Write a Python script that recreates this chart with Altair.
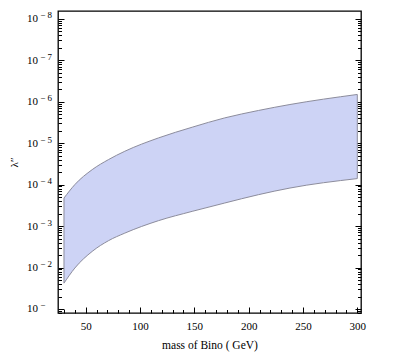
import altair as alt
import pandas as pd

# Data (band between two curves)
mass = [30, 40, 56, 71, 86, 117, 148, 178, 209, 238, 300]
lam_low = [2.11e-4, 1.0e-4, 4.35e-5, 2.49e-5, 1.57e-5, 7.48e-6, 4.13e-6, 2.46e-6,
           1.63e-6, 1.17e-6, 6.7e-7]
lam_high = [2.38e-2, 1.03e-2, 4.08e-3, 2.25e-3, 1.48e-3, 7.41e-4, 4.42e-4, 2.78e-4,
            1.75e-4, 1.21e-4, 7.16e-5]

y_major = [1e-8, 1e-7, 1e-6, 1e-5, 1e-4, 1e-3, 1e-2, 1e-1]
y_minor_factors = [10 / k for k in range(2, 10)]
y_minor = [f * d for d in [1e-9] + y_major for f in y_minor_factors]
y_minor = [v for v in y_minor if 6.5e-9 <= v <= 0.125]
x_major = [50, 100, 150, 200, 250, 300]
x_minor = [v for v in range(30, 301, 10) if v % 50 != 0]

df = pd.DataFrame({"mass": mass, "lo": lam_low, "hi": lam_high})

FONT = "Liberation Serif"
xscale = alt.Scale(domain=[24.5, 303.4], nice=False, zero=False)
yscale = alt.Scale(type="log", domain=[6.5e-9, 0.125], nice=False, reverse=True)

exp_expr = ("datum.value > 0.05 ? '−' : '− ' + "
            "format(round(-log(datum.value)/LN10), 'd')")


def layer(mark, xaxis, yaxis):
    return mark.encode(
        x=alt.X("mass:Q", scale=xscale, axis=xaxis),
        y=alt.Y("lo:Q", scale=yscale, axis=yaxis),
        y2="hi:Q",
    )


band = layer(
    alt.Chart(df).mark_area(fill="#cdd3f5", stroke="#8c8c9c", strokeWidth=1,
                            interpolate="monotone"),
    alt.Axis(orient="bottom", values=x_major, ticks=False, domain=False, grid=False,
             labelFont=FONT, labelFontSize=11, labelColor="black", labelPadding=7,
             title="mass of  Bino ( GeV)", titleFont=FONT, titleFontSize=11.5,
             titleFontWeight="normal", titleColor="black", titlePadding=8),
    alt.Axis(orient="left", values=y_major, labelExpr="'10'", ticks=False, domain=False,
             grid=False, labelFont=FONT, labelFontSize=11, labelColor="black",
             labelPadding=20.5, title="λ″", titleFont=FONT, titleFontSize=11,
             titleFontWeight="normal", titleColor="black", titlePadding=7),
)

ghost = alt.Chart(df).mark_area(opacity=0)

expo = layer(
    ghost, None,
    alt.Axis(orient="left", values=y_major, labelExpr=exp_expr, ticks=False,
             domain=False, grid=False, labelFont=FONT, labelFontSize=9,
             labelColor="black", labelAlign="left", labelPadding=18.3,
             labelOffset=-4, title=None),
)


def tick_axis(orient, values, size):
    return alt.Axis(orient=orient, values=values, ticks=True, tickSize=size, offset=-size,
                    labels=False, domain=False, grid=False, title=None,
                    tickColor="black", tickWidth=1)


l2 = layer(ghost, tick_axis("bottom", x_major, 6), tick_axis("left", y_major, 6))
l3 = layer(ghost, tick_axis("bottom", x_minor, 3.5), tick_axis("left", y_minor, 3.5))
l4 = layer(ghost, None, tick_axis("right", y_major, 6))
l5 = layer(ghost, None, tick_axis("right", y_minor, 3.5))

chart = alt.layer(band, expo, l2, l3, l4, l5).resolve_axis(
    x="independent", y="independent"
).properties(
    width=303, height=302,
    padding={"left": 0, "top": 2, "right": 5, "bottom": 5},
).configure_view(stroke="black", strokeWidth=1.3)

chart.save("out.html", embed_options={"renderer": "svg", "actions": False})
